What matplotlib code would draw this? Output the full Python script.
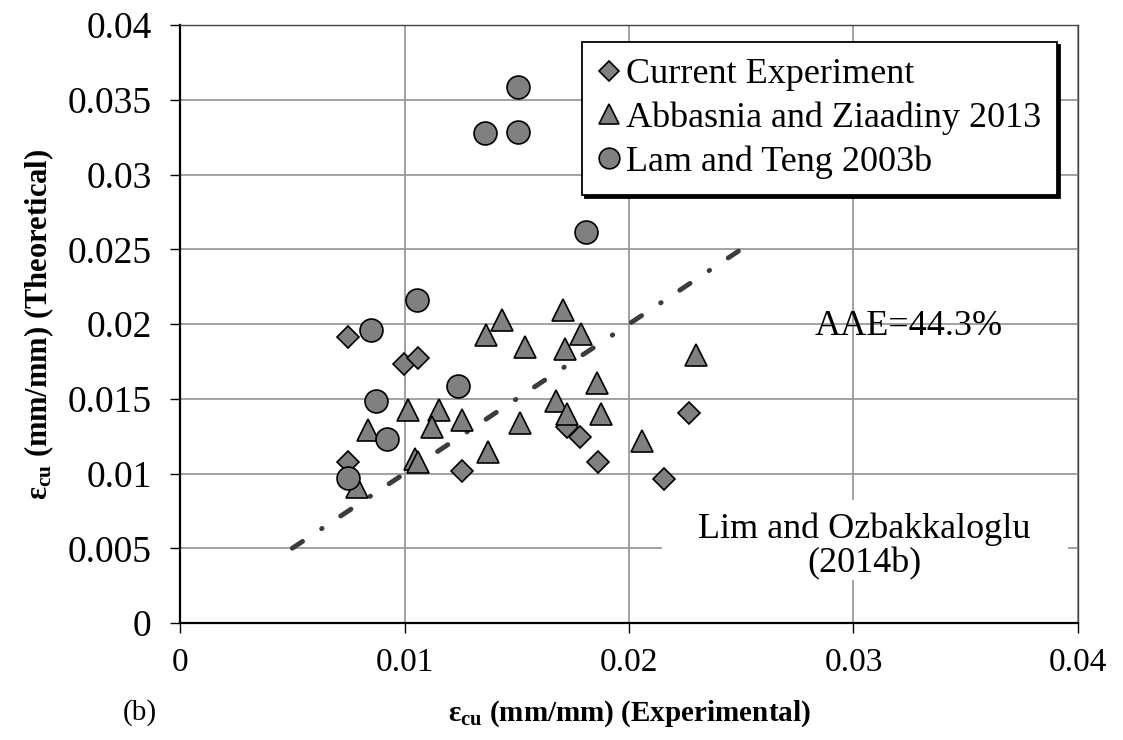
import numpy as np
import matplotlib.pyplot as plt
from matplotlib.patches import Rectangle

# Ultimate axial strain: experimental vs. theoretical (mm/mm)
current_exp = [0.00748, 0.00748, 0.00998, 0.01060, 0.01256, 0.01724, 0.01782,
               0.01862, 0.02156, 0.02267]
current_th = [0.01913, 0.01077, 0.01732, 0.01773, 0.01017, 0.01311, 0.01244,
              0.01077, 0.00963, 0.01405]

abbasnia_exp = [0.01016, 0.01154, 0.01122, 0.01256, 0.00837, 0.01047, 0.01060,
                0.00788, 0.01434, 0.01363, 0.01537, 0.01706, 0.01786, 0.01715,
                0.01857, 0.01675, 0.01724, 0.01875, 0.01514, 0.01372, 0.02058,
                0.02298]
abbasnia_th = [0.01425, 0.01425, 0.01311, 0.01360, 0.01291, 0.01097, 0.01080,
               0.00910, 0.02027, 0.01926, 0.01846, 0.02094, 0.01933, 0.01833,
               0.01605, 0.01485, 0.01398, 0.01398, 0.01338, 0.01144, 0.01217,
               0.01793]

lam_exp = [0.01506, 0.01506, 0.01359, 0.01808, 0.01056, 0.00850, 0.01238,
           0.00873, 0.00922, 0.00748]
lam_th = [0.03585, 0.03284, 0.03278, 0.02615, 0.02160, 0.01960, 0.01585,
          0.01485, 0.01231, 0.00970]

equality_line = [0.005, 0.025]
x_ticks = [0, 0.01, 0.02, 0.03, 0.04]
x_ticklabels = ['0', '0.01', '0.02', '0.03', '0.04']
y_ticks = [0, 0.005, 0.01, 0.015, 0.02, 0.025, 0.03, 0.035, 0.04]
y_ticklabels = ['0', '0.005', '0.01', '0.015', '0.02', '0.025', '0.03',
                '0.035', '0.04']

plt.rcParams['font.family'] = ['Liberation Serif', 'DejaVu Serif']
plt.rcParams['mathtext.fontset'] = 'custom'
plt.rcParams['mathtext.rm'] = 'Liberation Serif'
plt.rcParams['mathtext.bf'] = 'Liberation Serif:bold'
plt.rcParams['mathtext.it'] = 'Liberation Serif:italic'
plt.rcParams['lines.scale_dashes'] = False

fig = plt.figure(figsize=(11.23, 7.40), dpi=100)
ax = fig.add_axes([0.1603, 0.1581, 0.7996, 0.8081])

face = '#808080'
ax.plot(current_exp, current_th, 'D', ms=11.5, mfc=face, mec='black',
        mew=1.2, ls='none', label='Current Experiment', zorder=3)
ax.plot(abbasnia_exp, abbasnia_th, '^', ms=16.5, mfc=face, mec='black',
        mew=1.2, ls='none', label='Abbasnia and Ziaadiny 2013', zorder=3)
ax.plot(lam_exp, lam_th, 'o', ms=16.5, mfc=face, mec='black',
        mew=1.2, ls='none', label='Lam and Teng 2003b', zorder=3)

# Line of equality, dash-dot (dash lengths in points)
ax.plot(equality_line, equality_line, color='#3c3c3c', lw=3.5,
        dashes=(8.9, 16.5, 0.4, 16.1), dash_capstyle='round', zorder=2)

ax.set_xlim(0, 0.04)
ax.set_ylim(0, 0.04)
ax.set_xticks(x_ticks)
ax.set_xticklabels(x_ticklabels)
ax.set_yticks(y_ticks)
ax.set_yticklabels(y_ticklabels)
ax.tick_params(axis='both', length=7.5, width=1.0, direction='out',
               color='black')
ax.tick_params(axis='x', labelsize=24, pad=10)
ax.tick_params(axis='y', labelsize=27, pad=13)

ax.grid(True, color='#9a9a9a', lw=1.3, zorder=0)
ax.set_axisbelow(True)
for side in ['left', 'bottom']:
    ax.spines[side].set_linewidth(1.6)
    ax.spines[side].set_color('black')
for side in ['top', 'right']:
    ax.spines[side].set_linewidth(1.0)
    ax.spines[side].set_color('#444444')

ax.set_xlabel('ε$_{\\mathbf{cu}}$ (mm/mm) (Experimental)', fontsize=21,
              fontweight='bold', labelpad=15)
ax.set_ylabel('ε$_{\\mathbf{cu}}$ (mm/mm) (Theoretical)', fontsize=22,
              fontweight='bold', labelpad=8)

ax.text(0.03247, 0.0198, 'AAE=44.3%', fontsize=26, ha='center', va='center')

# White panel behind the model name
ax.add_patch(Rectangle((0.02147, 0.0029), 0.01808, 0.0053,
                       facecolor='white', edgecolor='none', zorder=1))
ax.text(0.0305, 0.00515, 'Lim and Ozbakkaloglu\n(2014b)', fontsize=26,
        ha='center', va='center', linespacing=1.05, zorder=4)

fig.text(140 / 1123, 1 - 713 / 740, '(b)', fontsize=21, ha='center',
         va='center')

leg = ax.legend(loc='upper right', bbox_to_anchor=(0.977, 0.972),
                borderaxespad=0, fontsize=26, markerscale=0.9,
                handlelength=0.55, handletextpad=0.2, labelspacing=0.28,
                borderpad=0.45, fancybox=False, framealpha=1,
                shadow={'color': 'black', 'alpha': 1})
leg.get_frame().set_edgecolor('black')
leg.get_frame().set_linewidth(1.3)

fig.savefig('out.png', dpi=100)
